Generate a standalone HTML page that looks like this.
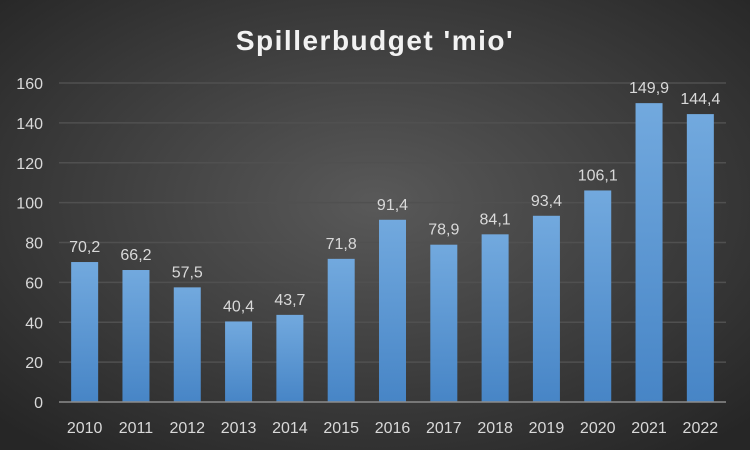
<!DOCTYPE html>
<html><head><meta charset="utf-8"><style>
body{margin:0;width:750px;height:450px;overflow:hidden;background:#333}
svg{display:block;font-family:"Liberation Sans",sans-serif}
</style></head><body>
<svg id="c" width="750" height="450">
<defs>
<radialGradient id="bg" cx="50%" cy="45%" r="70%"><stop offset="0" stop-color="#595959"/><stop offset="1" stop-color="#262626"/></radialGradient>
<linearGradient id="bar" x1="0" y1="0" x2="0" y2="1"><stop offset="0" stop-color="#72a9de"/><stop offset="1" stop-color="#4785c6"/></linearGradient>
</defs>
<rect width="750" height="450" fill="url(#bg)"/>
<text x="375" y="50" text-anchor="middle" fill="#f2f2f2" font-size="28" font-weight="bold" letter-spacing="1.5">Spillerbudget 'mio'</text>
<g id="g"></g>
</svg>
<script>
const categories=["2010","2011","2012","2013","2014","2015","2016","2017","2018","2019","2020","2021","2022"];
const values=[70.2,66.2,57.5,40.4,43.7,71.8,91.4,78.9,84.1,93.4,106.1,149.9,144.4];
const yTicks=[0,20,40,60,80,100,120,140,160];
const x0=59,x1=726,y0=402,y1=83,yMax=160;
const bw=(x1-x0)/categories.length;
const y=v=>y0-(v/yMax)*(y0-y1);
const xc=i=>x0+bw*(i+0.5);
const g=document.getElementById('g');
const NS='http://www.w3.org/2000/svg';
function mk(t,a){const e=document.createElementNS(NS,t);for(const k in a)e.setAttribute(k,a[k]);g.appendChild(e);return e;}
yTicks.forEach(t=>{
  if(t>0){const l=mk('line',{x1:x0,x2:x1,y1:y(t),y2:y(t),stroke:'#505050','stroke-width':1.5});
  
  }
  const tx=mk('text',{x:43,y:y(t)+6,'text-anchor':'end',fill:'#d9d9d9','font-size':16});
  tx.textContent=t;
  
  
});
values.forEach((v,i)=>{
  const w=27;
  const r=mk('rect',{x:xc(i)-w/2,y:y(v),width:w,height:y0-y(v),fill:'url(#bar)'});
  
  
  const l=mk('text',{x:xc(i),y:y(v)-10,'text-anchor':'middle',fill:'#d9d9d9','font-size':16});
  l.textContent=v.toFixed(1).replace('.',',');
  
  
  const c=mk('text',{x:xc(i),y:433,'text-anchor':'middle',fill:'#d9d9d9','font-size':16});
  c.textContent=categories[i];
  
  
});
const ax=mk('line',{x1:x0,x2:x1,y1:y0,y2:y0,stroke:'#8c8c8c','stroke-width':1.5});


</script>
</body></html>
